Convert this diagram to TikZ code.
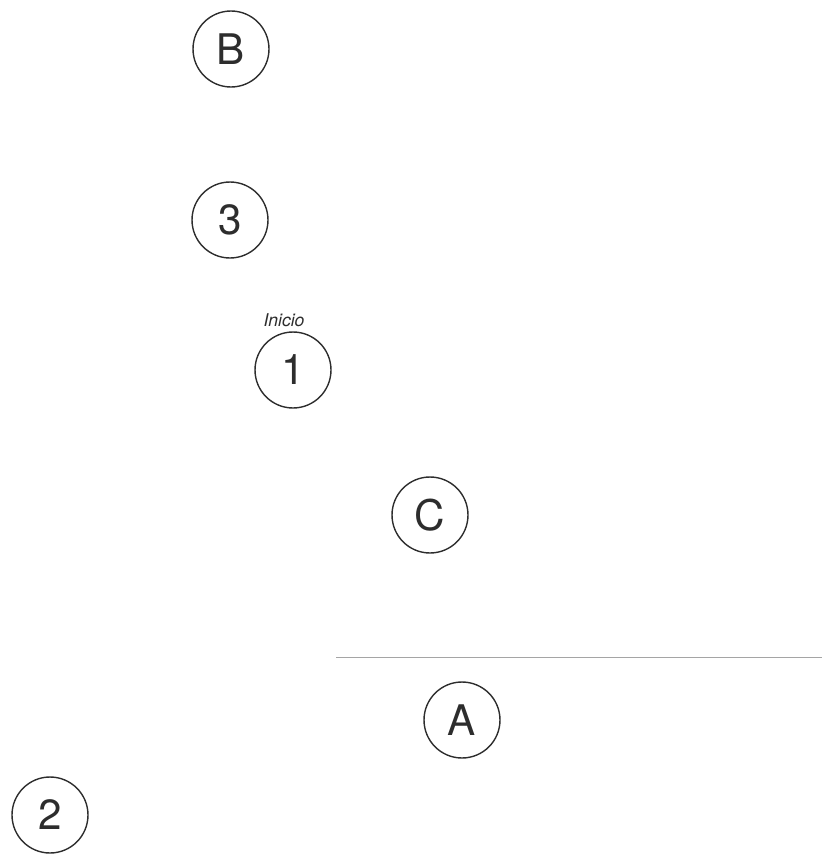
\documentclass[tikz,border=0pt]{standalone}
\usepackage{fontspec}
\setmainfont{TeX Gyre Heros}
\usetikzlibrary{positioning}
\definecolor{ink}{RGB}{45,45,45}
\definecolor{faint}{RGB}{165,165,165}
\tikzset{
  state/.style={circle, draw=ink, line width=0.8pt, minimum size=1.52cm, inner sep=0pt, text=ink, font=\fontsize{24}{28}\selectfont},
  tag/.style={font=\fontsize{10}{12}\selectfont\itshape, text=ink, inner sep=1pt},
}

\begin{document}
\begin{tikzpicture}[x=0.02cm, y=-0.02cm]
\useasboundingbox (0,0) rectangle (827,865);
\node[state] (B) at (231,49)  {B};
\node[state] (s3) at (230,220) {3};
\node[state] (s1) at (293,370) {1};
\node[tag, above=0.5mm of s1, xshift=-0.18cm] (start) {Inicio};
\node[state] (C) at (430,515) {C};
\node[state] (A) at (462,720) {A};
\node[state] (s2) at (50,815)  {2};
% faint rule above A
\coordinate (ruleL) at (336,657);
\coordinate (ruleR) at (822,657);
\draw[faint, line width=0.5pt] (ruleL) -- (ruleR);
\end{tikzpicture}
\end{document}
